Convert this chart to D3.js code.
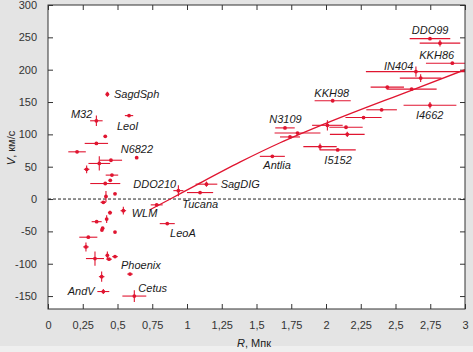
<!DOCTYPE html>
<html><head><meta charset="utf-8">
<script src="https://cdn.jsdelivr.net/npm/d3@7/dist/d3.min.js"></script>
<style>html,body{margin:0;padding:0;background:#e4e4e4;} svg{display:block}</style>
</head><body><svg id="c" width="473" height="352"></svg>
<script>
// Galaxies: distance R (Mpc), velocity V (km/s), errors
const pointR  = [0.427,0.348,0.583,0.412,0.348,0.209,0.638,0.453,0.369,0.278,0.46,0.448,0.412,0.482,0.417,0.398,0.542,0.446,0.422,0.35,0.393,0.388,0.482,0.29,0.273,0.338,0.427,0.439,0.482,0.386,0.59,0.398,0.621,0.938,1.14,1.094,0.782,0.858,1.614,1.705,1.795,1.741,2.048,2.01,2.144,2.153,1.957,2.084,2.27,2.40,2.441,2.616,2.647,2.681,2.748,2.82,2.909,2.748];
const pointV  = [162,121,129,97,86,73,64,60,55,46,37,29,24,8,4,-5,-18,-21,-31,-35,-45,-48,-51,-59,-74,-92,-87,-93,-89,-120,-116,-143,-150,13,23,10,-9,-38,66,110,102,96,152,114,111,100,81,76,126,138,173,170,197,187,248,241,210,145];
const pointDR = [0,0.045,0.03,0,0.084,0.063,0,0.08,0.078,0.02,0.045,0,0.108,0,0,0.02,0.02,0.015,0,0.036,0,0,0,0.065,0.02,0.065,0,0.02,0.02,0.02,0.02,0.043,0.086,0.036,0.078,0.094,0.043,0.054,0.09,0.07,0.165,0.072,0.13,0.11,0.12,0.125,0.12,0.13,0.13,0.11,0.12,0.18,0.36,0.15,0.146,0.146,0.19,0.19];
const pointDV = [4,8,0,0,0,0,0,0,11,6,0,0,0,0,8.5,0,6,3,6,0,0,0,0,0,7,11,6,0,0,8,0,4,9,8.5,4,0,0,0,0,0,0,0,0,8,0,4,5,0,0,0,0,0,8,6,0,5,0,5];

// Galaxy name labels (left edge, vertical centre, in data units)
const labelNames = ["SagdSph","M32","LeoI","N6822","DDO210","SagDIG","Tucana","WLM","LeoA","Phoenix","AndV","Cetus","Antlia","N3109","KKH98","I5152","IN404","DDO99","KKH86","I4662"];
const labelR = [0.475,0.165,0.496,0.523,0.614,1.242,0.966,0.602,0.878,0.525,0.142,0.65,1.549,1.592,1.916,1.988,2.417,2.617,2.671,2.647];
const labelV = [162,131,113,78,23,23,-7,-22,-53,-102,-142,-138,53,123,164,61,206,261,223,130];

// Hubble-flow curve
const lineR = [0.73,0.88,1.07,1.38,1.67,2.0,2.6,3.0];
const lineV = [-17,0,22,57,87,117,167,200];

const xTicks = [0,0.25,0.5,0.75,1,1.25,1.5,1.75,2,2.25,2.5,2.75,3];
const xTickLabels = ["0","0,25","0,5","0,75","1","1,25","1,5","1,75","2","2,25","2,5","2,75","3"];
const yTicks = [-150,-100,-50,0,50,100,150,200,250,300];
const yTickLabels = ["-150","-100","-50","0","50","100","150","200","250","300"];

const W = 473, H = 352;
const L = 48, Rt = 465, T = 5, B = 309;
const red = "#e01530";
const font = "'Liberation Sans', Arial, sans-serif";

const svg = d3.select("#c");
const x = d3.scaleLinear().domain([0,3]).range([L,Rt]);
const y = d3.scaleLinear().domain([-170,300]).range([B,T]);

svg.append("rect").attr("width",W).attr("height",H).attr("fill","#e4e4e4");
svg.append("rect").attr("y",346).attr("width",W).attr("height",H-346).attr("fill","#efefef");
svg.append("rect").attr("x",L).attr("y",T).attr("width",Rt-L).attr("height",B-T).attr("fill","#fff");

svg.append("defs").append("clipPath").attr("id","clip")
  .append("rect").attr("x",L).attr("y",T).attr("width",Rt-L).attr("height",B-T);

// axes (ticks inside on all four sides)
const axStyle = g => {
  g.select(".domain").remove();
  g.selectAll(".tick line").attr("stroke","#333");
  g.selectAll(".tick text").attr("fill","#333").style("font-family",font).style("font-size","11px");
};
svg.append("g").attr("transform",`translate(0,${B})`)
  .call(d3.axisBottom(x).tickValues(xTicks).tickFormat((d,i)=>xTickLabels[i]).tickSizeInner(-5).tickSizeOuter(0).tickPadding(12))
  .call(axStyle);
svg.append("g").attr("transform",`translate(0,${T})`)
  .call(d3.axisTop(x).tickValues(xTicks).tickFormat("").tickSizeInner(-5).tickSizeOuter(0))
  .call(axStyle);
svg.append("g").attr("transform",`translate(${L},0)`)
  .call(d3.axisLeft(y).tickValues(yTicks).tickFormat((d,i)=>yTickLabels[i]).tickSizeInner(-5).tickSizeOuter(0).tickPadding(11))
  .call(axStyle);
svg.append("g").attr("transform",`translate(${Rt},0)`)
  .call(d3.axisRight(y).tickValues(yTicks).tickFormat("").tickSizeInner(-5).tickSizeOuter(0))
  .call(axStyle);

// zero line
svg.append("line").attr("x1",L).attr("x2",Rt).attr("y1",y(0)).attr("y2",y(0))
  .attr("stroke","#222").attr("stroke-width",1).attr("stroke-dasharray","3,2");

const plot = svg.append("g").attr("clip-path","url(#clip)");

// fitted curve
const lineData = lineR.map((r,i)=>[r,lineV[i]]);
plot.append("path").datum(lineData)
  .attr("d", d3.line().x(d=>x(d[0])).y(d=>y(d[1])).curve(d3.curveMonotoneX))
  .attr("fill","none").attr("stroke",red).attr("stroke-width",1.3);

// error bars and points
const pts = pointR.map((r,i)=>({r, v:pointV[i], dr:pointDR[i], dv:pointDV[i]}));
const eg = plot.append("g").attr("stroke",red).attr("stroke-width",1.1);
eg.selectAll("line.h").data(pts.filter(d=>d.dr>0)).join("line").attr("class","h")
  .attr("x1",d=>x(d.r-d.dr)).attr("x2",d=>x(d.r+d.dr)).attr("y1",d=>y(d.v)).attr("y2",d=>y(d.v));
eg.selectAll("line.v").data(pts.filter(d=>d.dv>0)).join("line").attr("class","v")
  .attr("x1",d=>x(d.r)).attr("x2",d=>x(d.r)).attr("y1",d=>y(d.v-d.dv)).attr("y2",d=>y(d.v+d.dv));
plot.append("g").selectAll("circle").data(pts).join("circle")
  .attr("cx",d=>x(d.r)).attr("cy",d=>y(d.v)).attr("r",1.9).attr("fill",red);

// plot frame
svg.append("rect").attr("x",L).attr("y",T).attr("width",Rt-L).attr("height",B-T)
  .attr("fill","none").attr("stroke","#333").attr("stroke-width",1);

// labels
svg.append("g").selectAll("text").data(labelNames).join("text")
  .attr("x",(d,i)=>x(labelR[i])).attr("y",(d,i)=>y(labelV[i]))
  .attr("dominant-baseline","central")
  .style("font-family",font).style("font-size","11px").style("font-style","italic")
  .attr("fill","#1a1a1a").text(d=>d);

// axis titles
const yt = svg.append("text").attr("transform","translate(15,148) rotate(-90)")
  .attr("text-anchor","middle").style("font-family",font).style("font-size","11px").attr("fill","#222");
yt.append("tspan").style("font-style","italic").text("V");
yt.append("tspan").text(", км/с");
const xt = svg.append("text").attr("x",254).attr("y",347)
  .attr("text-anchor","middle").style("font-family",font).style("font-size","11px").attr("fill","#222");
xt.append("tspan").style("font-style","italic").text("R");
xt.append("tspan").text(", Мпк");
</script></body></html>
